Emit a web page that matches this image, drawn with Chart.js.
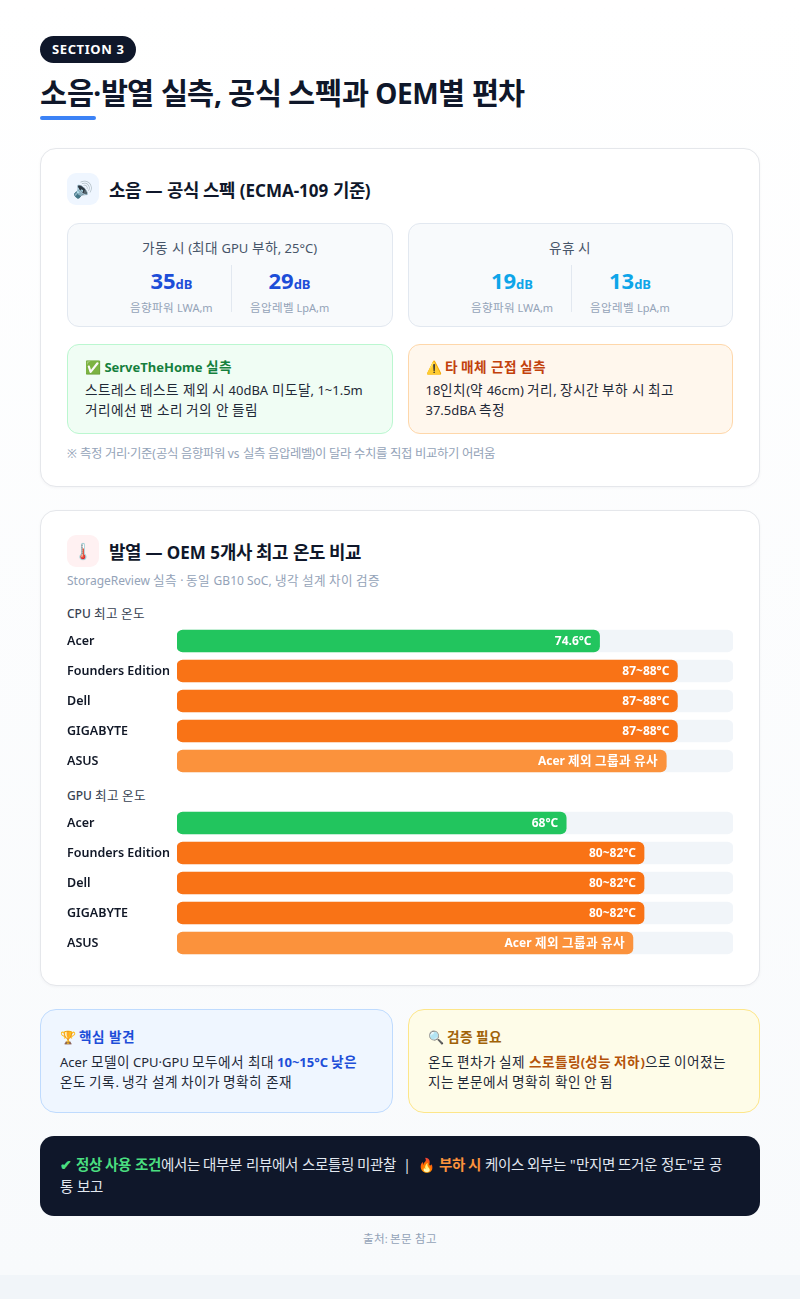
<!DOCTYPE html>
<html>
<head>
<meta charset="utf-8">
<script src="https://cdn.jsdelivr.net/npm/chart.js@4.4.1/dist/chart.umd.min.js"></script>
<style>
  @font-face { font-family: 'Hang'; src: local('Noto Sans CJK KR Regular'), local('NotoSansCJKkr-Regular'), local('Noto Sans CJK KR'); font-weight: 100 549; unicode-range: U+1100-11FF, U+3130-318F, U+A960-A97F, U+AC00-D7AF, U+D7B0-D7FF; size-adjust: 105%; }
  @font-face { font-family: 'Hang'; src: local('Noto Sans CJK KR Bold'), local('NotoSansCJKkr-Bold'); font-weight: 550 900; unicode-range: U+1100-11FF, U+3130-318F, U+A960-A97F, U+AC00-D7AF, U+D7B0-D7FF; size-adjust: 105%; }
  * { box-sizing: border-box; }
  html, body { margin: 0; padding: 0; }
  body { width: 800px; background: #f1f5f9; font-family: 'Noto Sans', 'Hang', 'Noto Sans CJK KR', sans-serif; color: #0f172a; }
  .wrap { background: linear-gradient(180deg, #ffffff 0%, #f8fafc 100%); padding: 36px 40px 29px; }
  .badge { display: inline-block; background: #0f172a; color: #fff; font-size: 13px; font-weight: 700; letter-spacing: 0.6px; height: 27px; line-height: 27px; padding: 0 12px; border-radius: 14px; }
  h1 { margin: 10px 0 0; font-size: 28px; line-height: 40px; font-weight: 700; color: #0f172a; letter-spacing: -0.4px; }
  .uline { width: 56px; height: 4px; background: #3b82f6; border-radius: 2px; margin-top: 3px; }
  .card { background: #fff; border: 1px solid #e5e7eb; border-radius: 16px; padding: 24px 26px; box-shadow: 0 1px 3px rgba(15,23,42,0.04); }
  .card1 { margin-top: 28px; }
  .card2 { margin-top: 23px; padding-bottom: 27px; }
  .hdr { display: flex; align-items: center; height: 32px; }
  .ico { width: 32px; height: 32px; border-radius: 9px; display: flex; align-items: center; justify-content: center; font-size: 16px; margin-right: 10px; }
  .hdr h2 { margin: 0; font-size: 17px; font-weight: 700; color: #0f172a; }
  .grid2 { display: grid; grid-template-columns: 1fr 1fr; gap: 15px; }
  .spec { margin-top: 18px; }
  .sbox { background: #f8fafc; border: 1px solid #e2e8f0; border-radius: 12px; padding: 15px 0 14px; text-align: center; height: 104px; }
  .sbox .t { font-size: 13px; line-height: 18px; color: #475569; }
  .pair { display: flex; justify-content: center; margin-top: 8px; }
  .pair > div { height: 47px; padding: 0 18px; }
  .pair > div + div { border-left: 1px solid #e2e8f0; }
  .num { font-size: 22px; line-height: 30px; font-weight: 700; }
  .num small { font-size: 13px; font-weight: 700; }
  .lab { font-size: 11px; line-height: 16px; color: #94a3b8; margin-top: 1px; }
  .b1 { color: #1d4ed8; } .b2 { color: #0ea5e9; }
  .notes { margin-top: 17px; }
  .note { border-radius: 12px; padding: 13px 17px; height: 90px; }
  .note .nt { font-size: 13px; line-height: 18px; font-weight: 700; }
  .note .nb { font-size: 13px; line-height: 20px; color: #1f2937; margin-top: 4px; }
  .ng { background: #f0fdf4; border: 1px solid #bbf7d0; } .ng .nt { color: #15803d; }
  .no { background: #fff7ed; border: 1px solid #fed7aa; } .no .nt { color: #c2410c; }
  .foot { margin-top: 10px; font-size: 11.8px; line-height: 18px; color: #94a3b8; }
  .sub { margin-top: 5px; font-size: 12px; line-height: 18px; color: #94a3b8; }
  .grp { font-size: 12px; line-height: 18px; color: #374151; font-weight: 500; }
  .g1 { margin-top: 15px; } .g2 { margin-top: 11px; }
  .cw { position: relative; height: 150px; margin-top: 3px; }
  .bot { margin-top: 23px; }
  .bc { border-radius: 16px; padding: 18px 22px 18px 19px; height: 104px; }
  .bc .nt { font-size: 13px; line-height: 18px; font-weight: 700; }
  .bc .nb { font-size: 13px; line-height: 20px; color: #1f2937; margin-top: 6px; }
  .bb { background: #eff6ff; border: 1px solid #bfdbfe; } .bb .nt { color: #1d4ed8; }
  .by { background: #fefce8; border: 1px solid #fde68a; } .by .nt { color: #a16207; }
  .hb { color: #1d4ed8; font-weight: 700; } .hy { color: #b45309; font-weight: 700; }
  .dark { margin-top: 23px; background: #0f172a; border-radius: 14px; padding: 18px 22px 18px 20px; color: #e2e8f0; font-size: 13.8px; line-height: 22px; height: 80px; }
  .dg { color: #4ade80; font-weight: 700; } .do { color: #fb923c; font-weight: 700; }
  .src { margin-top: 16px; text-align: center; font-size: 11px; line-height: 14px; color: #94a3b8; }
</style>
</head>
<body>
<div class="wrap">
  <div class="badge">SECTION 3</div>
  <h1>소음·발열 실측, 공식 스펙과 OEM별 편차</h1>
  <div class="uline"></div>

  <div class="card card1">
    <div class="hdr"><div class="ico" style="background:#eff6ff">🔊</div><h2>소음 — 공식 스펙 (ECMA-109 기준)</h2></div>
    <div class="grid2 spec">
      <div class="sbox">
        <div class="t">가동 시 (최대 GPU 부하, 25°C)</div>
        <div class="pair">
          <div><div class="num b1">35<small>dB</small></div><div class="lab">음향파워 LWA,m</div></div>
          <div><div class="num b1">29<small>dB</small></div><div class="lab">음압레벨 LpA,m</div></div>
        </div>
      </div>
      <div class="sbox">
        <div class="t">유휴 시</div>
        <div class="pair">
          <div><div class="num b2">19<small>dB</small></div><div class="lab">음향파워 LWA,m</div></div>
          <div><div class="num b2">13<small>dB</small></div><div class="lab">음압레벨 LpA,m</div></div>
        </div>
      </div>
    </div>
    <div class="grid2 notes">
      <div class="note ng"><div class="nt">✅ ServeTheHome 실측</div><div class="nb">스트레스 테스트 제외 시 40dBA 미도달, 1~1.5m 거리에선 팬 소리 거의 안 들림</div></div>
      <div class="note no"><div class="nt">⚠️ 타 매체 근접 실측</div><div class="nb">18인치(약 46cm) 거리, 장시간 부하 시 최고 37.5dBA 측정</div></div>
    </div>
    <div class="foot">※ 측정 거리·기준(공식 음향파워 vs 실측 음압레벨)이 달라 수치를 직접 비교하기 어려움</div>
  </div>

  <div class="card card2">
    <div class="hdr"><div class="ico" style="background:#fff1f2">🌡️</div><h2>발열 — OEM 5개사 최고 온도 비교</h2></div>
    <div class="sub">StorageReview 실측 · 동일 GB10 SoC, 냉각 설계 차이 검증</div>
    <div class="grp g1">CPU 최고 온도</div>
    <div class="cw"><canvas id="cpu"></canvas></div>
    <div class="grp g2">GPU 최고 온도</div>
    <div class="cw"><canvas id="gpu"></canvas></div>
  </div>

  <div class="grid2 bot">
    <div class="bc bb"><div class="nt">🏆 핵심 발견</div><div class="nb">Acer 모델이 CPU·GPU 모두에서 최대 <span class="hb">10~15°C 낮은</span> 온도 기록. 냉각 설계 차이가 명확히 존재</div></div>
    <div class="bc by"><div class="nt">🔍 검증 필요</div><div class="nb">온도 편차가 실제 <span class="hy">스로틀링(성능 저하)</span>으로 이어졌는지는 본문에서 명확히 확인 안 됨</div></div>
  </div>

  <div class="dark"><span class="dg">✔ 정상 사용 조건</span>에서는 대부분 리뷰에서 스로틀링 미관찰 &nbsp;|&nbsp; 🔥 <span class="do">부하 시</span> 케이스 외부는 "만지면 뜨거운 정도"로 공<br>통 보고</div>
  <div class="src">출처: 본문 참고</div>
</div>

<script>
const oems = ['Acer', 'Founders Edition', 'Dell', 'GIGABYTE', 'ASUS'];
const cpuBarLength = [76, 90, 90, 90, 88];
const cpuLabels = ['74.6°C', '87~88°C', '87~88°C', '87~88°C', 'Acer 제외 그룹과 유사'];
const gpuBarLength = [70, 84, 84, 84, 82];
const gpuLabels = ['68°C', '80~82°C', '80~82°C', '80~82°C', 'Acer 제외 그룹과 유사'];
const barColors = ['#22c55e', '#f97316', '#f97316', '#f97316', '#fb923c'];
const trackMax = 100;

const FONT = "'Noto Sans', 'Hang', 'Noto Sans CJK KR', sans-serif";
Chart.defaults.font.family = FONT;
Chart.defaults.animation = false;

const valueLabelPlugin = {
  id: 'valueLabels',
  afterDatasetsDraw(chart) {
    const meta = chart.getDatasetMeta(1);
    const texts = chart.config.options.plugins.valueLabels.texts;
    const ctx = chart.ctx;
    ctx.save();
    ctx.fillStyle = '#ffffff';
    ctx.font = "700 12px " + FONT;
    ctx.textAlign = 'right';
    ctx.textBaseline = 'middle';
    meta.data.forEach((el, i) => {
      ctx.fillText(texts[i], el.x - 8, el.y + 0.5);
    });
    ctx.restore();
  }
};

function makeChart(id, values, texts) {
  new Chart(document.getElementById(id), {
    type: 'bar',
    data: {
      labels: oems,
      datasets: [
        { data: oems.map(() => trackMax), backgroundColor: '#f1f5f9', borderRadius: 6, borderSkipped: false, barThickness: 22, grouped: false, order: 2 },
        { data: values, backgroundColor: barColors, borderRadius: 6, borderSkipped: false, barThickness: 22, grouped: false, order: 1 }
      ]
    },
    options: {
      indexAxis: 'y',
      responsive: true,
      maintainAspectRatio: false,
      layout: { padding: 0 },
      scales: {
        x: { display: false, min: 0, max: trackMax },
        y: {
          grid: { display: false }, border: { display: false },
          afterFit(scale) { scale.width = 110; scale.paddingTop = 0; scale.paddingBottom = 0; },
          ticks: { crossAlign: 'far', padding: 0, color: '#111827', font: { size: 12.5, weight: '600' } }
        }
      },
      plugins: { legend: { display: false }, tooltip: { enabled: false }, valueLabels: { texts } }
    },
    plugins: [valueLabelPlugin]
  });
}
function build() {
  makeChart('cpu', cpuBarLength, cpuLabels);
  makeChart('gpu', gpuBarLength, gpuLabels);
}
Promise.all([
  document.fonts.load("700 12px 'Hang'", '제외'),
  document.fonts.load("400 12px 'Hang'", '제외')
]).catch(() => {}).then(build, build);
</script>
</body>
</html>
